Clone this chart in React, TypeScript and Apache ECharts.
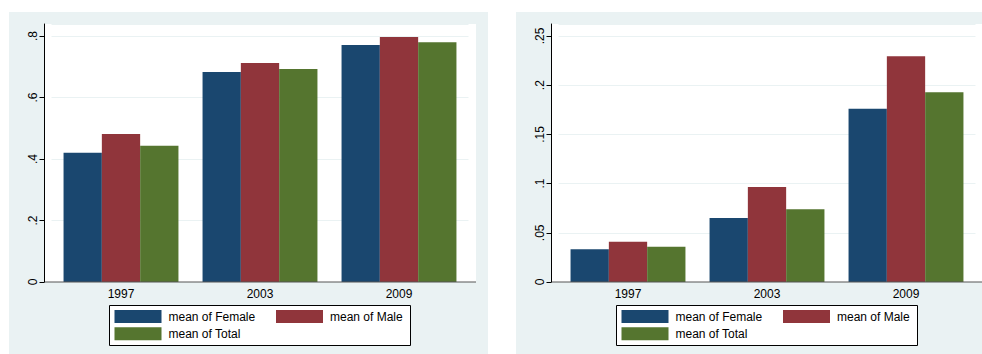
import React, { useEffect, useRef } from "react";
import * as echarts from "echarts";

const categories = ["1997", "2003", "2009"];
const seriesNames = ["mean of Female", "mean of Male", "mean of Total"];
// left panel
const femaleLeft = [0.42, 0.683, 0.771];
const maleLeft = [0.481, 0.712, 0.797];
const totalLeft = [0.443, 0.693, 0.78];
// right panel
const femaleRight = [0.0333, 0.065, 0.176];
const maleRight = [0.041, 0.0965, 0.2294];
const totalRight = [0.0359, 0.0739, 0.1928];

const colors = ["#1A476F", "#90353B", "#55752F"];
const BG = "#EAF2F3";
const FONT = "Liberation Sans";

const fmt = (v: number) => {
  if (v === 0) return "0";
  return String(+v.toFixed(3)).replace(/^0/, "");
};

export default function App() {
  const ref = useRef<HTMLDivElement>(null);
  useEffect(() => {
    if (!ref.current) return;
    const chart = echarts.init(ref.current, undefined, { renderer: "svg" });
    const panels = [
      { x0: 9, plotX: 45, gridLeft: 51.5, max: 0.839, interval: 0.2, data: [femaleLeft, maleLeft, totalLeft] },
      { x0: 516, plotX: 552, gridLeft: 558.5, max: 0.2622, interval: 0.05, data: [femaleRight, maleRight, totalRight] },
    ];
    const graphic: any[] = [];
    const legends: any[] = [];
    panels.forEach((p) => {
      graphic.push({ type: "rect", z: -10, shape: { x: p.x0, y: 12, width: 479, height: 342 }, style: { fill: BG } });
      graphic.push({ type: "rect", z: -9, shape: { x: p.plotX, y: 24, width: 431, height: 258 }, style: { fill: "#FFFFFF" } });
      graphic.push({ type: "line", z: 50, shape: { x1: p.plotX, y1: 282, x2: p.plotX + 431, y2: 282 }, style: { stroke: "#555", lineWidth: 1 } });
      const lx = p.plotX + 64.5;
      graphic.push({ type: "rect", z: -8, shape: { x: lx, y: 305.5, width: 301, height: 40 }, style: { fill: "#FFFFFF", stroke: "#000", lineWidth: 1 } });
      const pos = [
        [lx + 5, 310],
        [lx + 166.5, 310],
        [lx + 5, 327.3],
      ];
      seriesNames.forEach((n, i) => {
        legends.push({
          data: [n],
          left: pos[i][0],
          top: pos[i][1],
          padding: 0,
          itemWidth: 47,
          itemHeight: 13,
          icon: "rect",
          selectedMode: false,
          textStyle: { fontFamily: FONT, fontSize: 12, color: "#000", padding: [0, 0, 0, 2] },
        });
      });
    });

    const option: any = {
      animation: false,
      graphic,
      legend: legends,
      grid: panels.map((p) => ({ left: p.gridLeft, top: 24, width: 417, height: 258 })),
      xAxis: panels.map((_, i) => ({
        type: "category",
        gridIndex: i,
        data: categories,
        axisLine: { show: false },
        axisTick: { show: false },
        axisLabel: { fontFamily: FONT, fontSize: 12, color: "#000", margin: 6 },
      })),
      yAxis: panels.map((p, i) => ({
        type: "value",
        gridIndex: i,
        min: 0,
        max: p.max,
        interval: p.interval,
        offset: 7,
        axisLine: { show: true, lineStyle: { color: "#000", width: 1 } },
        axisTick: { show: true, length: 5, lineStyle: { color: "#000" } },
        axisLabel: {
          fontFamily: FONT,
          fontSize: 12,
          color: "#000",
          rotate: 90,
          margin: 6,
          showMaxLabel: false,
          formatter: (v: number) => fmt(v),
        },
        splitLine: { show: true, lineStyle: { color: BG, width: 1 } },
      })),
      series: panels.flatMap((p, pi) =>
        seriesNames.map((n, si) => ({
          type: "bar",
          name: n,
          xAxisIndex: pi,
          yAxisIndex: pi,
          data: p.data[si],
          barWidth: 38.3,
          barGap: "0%",
          itemStyle: { color: colors[si] },
        }))
      ),
    };
    chart.setOption(option);
    return () => chart.dispose();
  }, []);
  return (
    <div
      ref={ref}
      style={{ position: "fixed", left: 0, top: 0, width: 982, height: 354, background: "#FFFFFF" }}
    />
  );
}
